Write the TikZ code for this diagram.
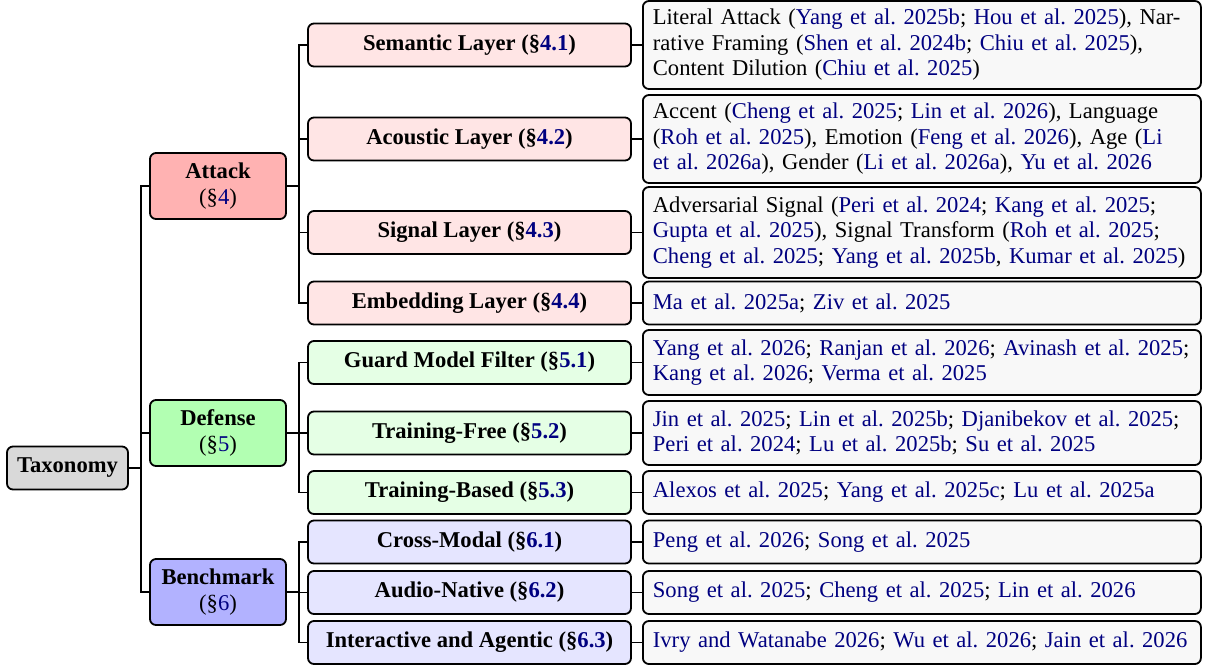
\documentclass[tikz,border=0pt]{standalone}
\usepackage{fontspec}
\setmainfont{Liberation Serif}
\usepackage{xcolor}
\definecolor{citeblue}{RGB}{0,0,128}
\definecolor{leafgray}{RGB}{248,248,248}
\newcommand{\cit}[1]{\textcolor{citeblue}{#1}}
\newcommand{\secref}[1]{(\S\textcolor{citeblue}{#1})}
\frenchspacing

\tikzset{
  box/.style={draw=black, line width=0.9pt, rounded corners=3pt, align=center, inner sep=2pt,
    font=\fontsize{11.3}{12.75}\selectfont},
  rootbox/.style={box, fill=black!15, minimum width=60.5pt, minimum height=21.5pt,
    font=\fontsize{11.3}{12.75}\selectfont\bfseries},
  catbox/.style={box, minimum width=68pt, minimum height=33pt},
  subbox/.style={box, minimum width=161.5pt, minimum height=21.5pt,
    font=\fontsize{11.3}{12.75}\selectfont\bfseries},
  leaf/.style={box, fill=leafgray, anchor=west, align=left, text width=269pt,
    inner xsep=5pt, inner ysep=2pt, minimum height=21.5pt},
  link/.style={draw=black, line width=0.8pt}
}

\begin{document}
\begin{tikzpicture}[x=0.5pt,y=-0.5pt]
\useasboundingbox (0,0) rectangle (1205,666);

\node[rootbox] (root) at (67.5,468) {Taxonomy};

\node[catbox, fill=red!30] (attack) at (218,186) {\textbf{Attack}\\\secref{4}};
\node[catbox, fill=green!30] (defense) at (218,433) {\textbf{Defense}\\\secref{5}};
\node[catbox, fill=blue!30] (bench) at (218,592) {\textbf{Benchmark}\\\secref{6}};

\node[subbox, fill=red!10] (semantic) at (469.5,45) {Semantic Layer \secref{4.1}};
\node[subbox, fill=red!10] (acoustic) at (469.5,139) {Acoustic Layer \secref{4.2}};
\node[subbox, fill=red!10] (signal) at (469.5,232.5) {Signal Layer \secref{4.3}};
\node[subbox, fill=red!10] (embed) at (469.5,303) {Embedding Layer \secref{4.4}};
\node[subbox, fill=green!10] (guard) at (469.5,362.5) {Guard Model Filter \secref{5.1}};
\node[subbox, fill=green!10] (tfree) at (469.5,433) {Training-Free \secref{5.2}};
\node[subbox, fill=green!10] (tbased) at (469.5,492.5) {Training-Based \secref{5.3}};
\node[subbox, fill=blue!10] (cross) at (469.5,542) {Cross-Modal \secref{6.1}};
\node[subbox, fill=blue!10] (native) at (469.5,592.5) {Audio-Native \secref{6.2}};
\node[subbox, fill=blue!10] (agentic) at (469.5,642.5) {Interactive and Agentic \secref{6.3}};

\node[leaf, minimum height=44pt] (lsemantic) at (642,45) {Literal Attack (\cit{Yang et al. 2025b}; \cit{Hou et al. 2025}), Nar-\\rative Framing (\cit{Shen et al. 2024b}; \cit{Chiu et al. 2025}),\\Content Dilution (\cit{Chiu et al. 2025})};
\node[leaf, minimum height=44pt] (lacoustic) at (642,139) {Accent (\cit{Cheng et al. 2025}; \cit{Lin et al. 2026}), Language\\(\cit{Roh et al. 2025}), Emotion (\cit{Feng et al. 2026}), Age (\cit{Li}\\\cit{et al. 2026a}), Gender (\cit{Li et al. 2026a}), \cit{Yu et al. 2026}};
\node[leaf, minimum height=45.5pt] (lsignal) at (642,232.5) {Adversarial Signal (\cit{Peri et al. 2024}; \cit{Kang et al. 2025};\\\cit{Gupta et al. 2025}), Signal Transform (\cit{Roh et al. 2025};\\\cit{Cheng et al. 2025}; \cit{Yang et al. 2025b}, \cit{Kumar et al. 2025})};
\node[leaf] (lembed) at (642,303) {\cit{Ma et al. 2025a}; \cit{Ziv et al. 2025}};
\node[leaf, minimum height=32.5pt] (lguard) at (642,362.5) {\cit{Yang et al. 2026}; \cit{Ranjan et al. 2026}; \cit{Avinash et al. 2025};\\\cit{Kang et al. 2026}; \cit{Verma et al. 2025}};
\node[leaf, minimum height=32pt] (ltfree) at (642,433) {\cit{Jin et al. 2025}; \cit{Lin et al. 2025b}; \cit{Djanibekov et al. 2025};\\\cit{Peri et al. 2024}; \cit{Lu et al. 2025b}; \cit{Su et al. 2025}};
\node[leaf] (ltbased) at (642,492.5) {\cit{Alexos et al. 2025}; \cit{Yang et al. 2025c}; \cit{Lu et al. 2025a}};
\node[leaf] (lcross) at (642,542) {\cit{Peng et al. 2026}; \cit{Song et al. 2025}};
\node[leaf] (lnative) at (642,592.5) {\cit{Song et al. 2025}; \cit{Cheng et al. 2025}; \cit{Lin et al. 2026}};
\node[leaf] (lagentic) at (642,642.5) {\cit{Ivry and Watanabe 2026}; \cit{Wu et al. 2026}; \cit{Jain et al. 2026}};

\draw[link] (root.east) -- ++(12,0) |- (attack.west);
\draw[link] (root.east) -- ++(12,0) |- (defense.west);
\draw[link] (root.east) -- ++(12,0) |- (bench.west);

\foreach \cat/\sub in {attack/semantic, attack/acoustic, attack/signal, attack/embed,
  defense/guard, defense/tfree, defense/tbased, bench/cross, bench/native, bench/agentic}
  \draw[link] (\cat.east) -- ++(12,0) |- (\sub.west);

\foreach \sub in {semantic, acoustic, signal, embed, guard, tfree, tbased, cross, native, agentic}
  \draw[link] (\sub.east) -- (l\sub.west);
\end{tikzpicture}
\end{document}
